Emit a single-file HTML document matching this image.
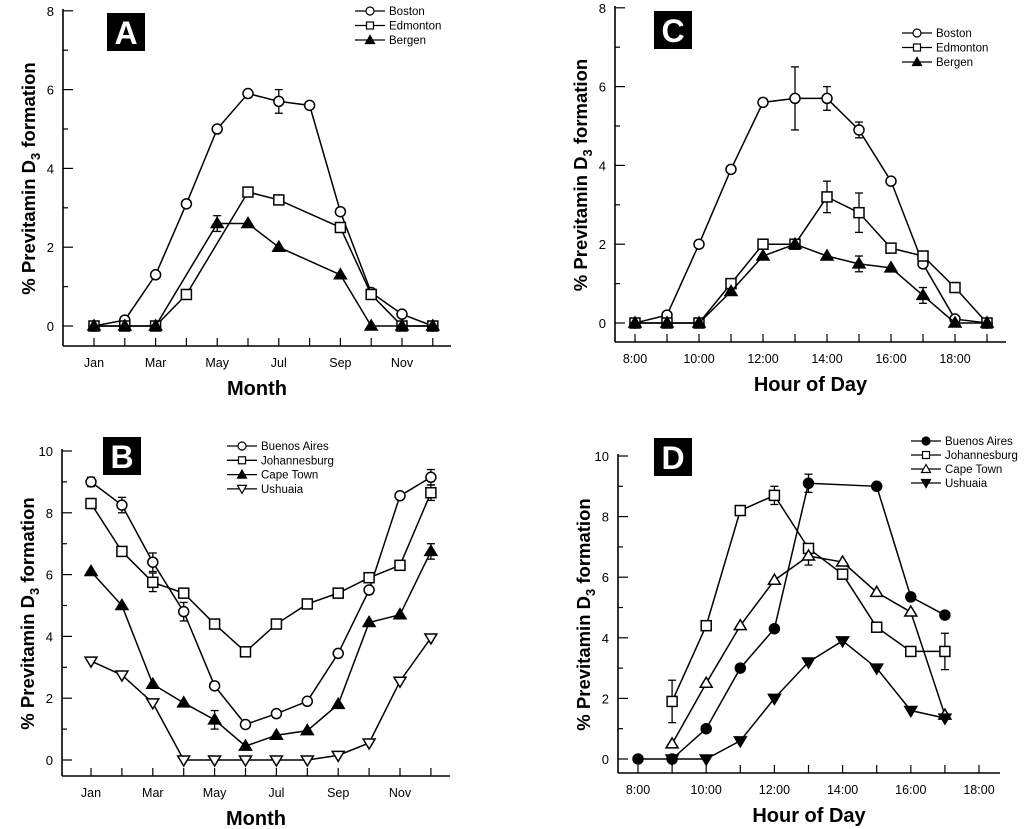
<!DOCTYPE html>
<html><head><meta charset="utf-8">
<style>
body{margin:0;background:#fff;}
svg{display:block;font-family:"Liberation Sans",Arial,sans-serif;}
</style></head>
<body>
<svg id="fig" width="1024" height="829" viewBox="0 0 1024 829"></svg>
<script>
// ---------- data ----------
const monthLabels = ["Jan","Mar","May","Jul","Sep","Nov"];
const hourLabels = ["8:00","10:00","12:00","14:00","16:00","18:00"];
// Panel A (months 1-12)
const aBoston   = [0,0.15,1.3,3.1,5.0,5.9,5.7,5.6,2.9,0.85,0.3,0];
const aEdmonton = [0,0,0,0.8,null,3.4,3.2,null,2.5,0.8,0,0];
const aBergen   = [0,0,0,null,2.6,2.6,2.0,null,1.3,0,0,0];
const aErr = [["boston",6,0.3],["bergen",4,0.2]];
// Panel C (hours 8-19)
const cBoston   = [0,0.2,2.0,3.9,5.6,5.7,5.7,4.9,3.6,1.5,0.1,0];
const cEdmonton = [0,0,0,1.0,2.0,2.0,3.2,2.8,1.9,1.7,0.9,0];
const cBergen   = [0,0,0,0.8,1.7,2.0,1.7,1.5,1.4,0.7,0,0];
const cErr = [["boston",5,0.8],["boston",6,0.3],["boston",7,0.2],["edmonton",6,0.4],["edmonton",7,0.5],["bergen",7,0.2],["bergen",9,0.2]];
// Panel B (months 1-12)
const bBuenos = [9.0,8.25,6.4,4.8,2.4,1.15,1.5,1.9,3.45,5.5,8.55,9.15];
const bJohan  = [8.3,6.75,5.75,5.4,4.4,3.5,4.4,5.05,5.4,5.9,6.3,8.65];
const bCape   = [6.1,5.0,2.45,1.85,1.3,0.45,0.8,0.95,1.8,4.45,4.7,6.75];
const bUsh    = [3.2,2.75,1.85,0,0,0,0,0,0.15,0.55,2.55,3.95];
const bErr = [["buenos",0,0.15],["buenos",1,0.25],["buenos",2,0.3],["buenos",3,0.3],["buenos",11,0.25],["johan",2,0.3],["johan",11,0.25],["cape",4,0.3],["cape",11,0.25]];
// Panel D (hours 8-17)
const dBuenos = [0,0,1.0,3.0,4.3,9.1,null,9.0,5.35,4.75];
const dJohan  = [null,1.9,4.4,8.2,8.7,6.95,6.1,4.35,3.55,3.55];
const dCape   = [null,0.5,2.5,4.4,5.9,6.7,6.5,5.5,4.85,1.45];
const dUsh    = [null,0,0,0.6,2.0,3.2,3.9,3.0,1.6,1.35];
const dErr = [["buenos",5,0.3],["johan",1,0.7],["johan",4,0.3],["johan",9,0.6],["cape",5,0.3]];

const NS="http://www.w3.org/2000/svg";
const svg=document.getElementById('fig');
function el(tag,attrs,parent){const e=document.createElementNS(NS,tag);for(const k in attrs)e.setAttribute(k,attrs[k]);(parent||svg).appendChild(e);return e;}

function marker(g,type,x,y){
  const r=5;let m;
  if(type==='circle'||type==='fcircle') m=el('circle',{cx:x,cy:y,r:r,fill:type==='fcircle'?'#000':'#fff',stroke:'#000','stroke-width':1.5},g);
  else if(type==='square') m=el('rect',{x:x-r,y:y-r,width:2*r,height:2*r,fill:'#fff',stroke:'#000','stroke-width':1.5},g);
  else if(type==='tri'||type==='otri') m=el('polygon',{points:`${x},${y-r-1} ${x-r-1},${y+r-1} ${x+r+1},${y+r-1}`,fill:type==='tri'?'#000':'#fff',stroke:'#000','stroke-width':1.5},g);
  else m=el('polygon',{points:`${x},${y+r+1} ${x-r-1},${y-r+1} ${x+r+1},${y-r+1}`,fill:type==='dtri'?'#000':'#fff',stroke:'#000','stroke-width':1.5},g);
  
  
}

function panel(cfg){
  const g=el('g',{});
  
  
  const X=i=>cfg.x0+i*cfg.dx, Y=v=>cfg.y0-v*cfg.dy;
  el('line',{x1:cfg.ax,y1:cfg.yTop-2,x2:cfg.ax,y2:cfg.axY,stroke:'#000','stroke-width':1.6},g);
  el('line',{x1:cfg.ax,y1:cfg.axY,x2:cfg.axR,y2:cfg.axY,stroke:'#000','stroke-width':1.6},g);
  for(let v=0;v<=cfg.ymax;v++){
    const major=v%2===0;
    el('line',{x1:cfg.ax,y1:Y(v),x2:cfg.ax+(major?10:5),y2:Y(v),stroke:'#000','stroke-width':1.2},g);
    if(major){const t=el('text',{x:cfg.ax-9,y:Y(v)+5,'text-anchor':'end','font-size':13},g);t.textContent=v;
      }
  }
  for(let i=0;i<cfg.nx;i++){
    el('line',{x1:X(i),y1:cfg.axY,x2:X(i),y2:cfg.axY-8,stroke:'#000','stroke-width':1.2},g);
  }
  cfg.xlabels.forEach((s,k)=>{const t=el('text',{x:X(k*2),y:cfg.axY+21,'text-anchor':'middle','font-size':12.5},g);t.textContent=s;
    });
  const xt=el('text',{x:(cfg.ax+cfg.axR)/2,y:cfg.axY+49,'text-anchor':'middle','font-size':20,'font-weight':'bold'},g);
  xt.textContent=cfg.xtitle;
  const cy=(cfg.yTop+cfg.axY)/2, tx=cfg.ax-28;
  const yt=el('text',{x:tx,y:cy,transform:`rotate(-90 ${tx} ${cy})`,'text-anchor':'middle','font-size':18.5,'font-weight':'bold'},g);
  
  yt.innerHTML='% Previtamin D<tspan font-size="13" dy="5">3</tspan><tspan dy="-5"> formation</tspan>';
  el('rect',{x:cfg.bx,y:cfg.by,width:38,height:38,fill:'#000'},g);
  const lt=el('text',{x:cfg.bx+19,y:cfg.by+31,'text-anchor':'middle','font-size':32,'font-weight':'bold',fill:'#fff'},g);
  lt.textContent=cfg.letter;
  cfg.err.forEach(([key,i,e])=>{
    const s=cfg.series.find(s=>s.key===key);const v=s.data[i];const x=X(i);
    el('line',{x1:x,y1:Y(v+e),x2:x,y2:Y(v-e),stroke:'#000','stroke-width':1.3},g);
    el('line',{x1:x-4,y1:Y(v+e),x2:x+4,y2:Y(v+e),stroke:'#000','stroke-width':1.3},g);
    el('line',{x1:x-4,y1:Y(v-e),x2:x+4,y2:Y(v-e),stroke:'#000','stroke-width':1.3},g);
  });
  cfg.series.forEach(s=>{
    const sg=el('g',{},g);
    
    
    const pts=[];s.data.forEach((v,i)=>{if(v!==null)pts.push([X(i),Y(v)]);});
    el('polyline',{points:pts.map(p=>p.join(',')).join(' '),fill:'none',stroke:'#000','stroke-width':1.5},sg);
    pts.forEach(p=>marker(sg,s.m,p[0],p[1]));
  });
  cfg.series.forEach((s,k)=>{
    const ly=cfg.ly+k*cfg.lsp;
    const lg=el('g',{},g);
    
    
    el('line',{x1:cfg.lx,y1:ly,x2:cfg.lx+30,y2:ly,stroke:'#000','stroke-width':1.3},lg);
    const r=3.5,x=cfg.lx+15;
    if(s.m==='circle'||s.m==='fcircle')el('circle',{cx:x,cy:ly,r:r+0.5,fill:s.m==='fcircle'?'#000':'#fff',stroke:'#000','stroke-width':1.2},lg);
    else if(s.m==='square')el('rect',{x:x-r,y:ly-r,width:2*r,height:2*r,fill:'#fff',stroke:'#000','stroke-width':1.2},lg);
    else if(s.m==='tri'||s.m==='otri')el('polygon',{points:`${x},${ly-r-1} ${x-r-1},${ly+r} ${x+r+1},${ly+r}`,fill:s.m==='tri'?'#000':'#fff',stroke:'#000','stroke-width':1.2},lg);
    else el('polygon',{points:`${x},${ly+r+1} ${x-r-1},${ly-r} ${x+r+1},${ly-r}`,fill:s.m==='dtri'?'#000':'#fff',stroke:'#000','stroke-width':1.2},lg);
    const t=el('text',{x:cfg.lx+34,y:ly+4,'font-size':11.5},lg);t.textContent=s.name;
  });
}

panel({letter:'A',ax:63,axR:451,axY:346,yTop:11,x0:94,dx:30.8,nx:12,y0:326,dy:39.4,ymax:8,
  xlabels:monthLabels,xtitle:'Month',bx:107,by:13,lx:355,ly:11,lsp:14.5,err:aErr,
  series:[{key:'boston',name:'Boston',data:aBoston,m:'circle'},{key:'edmonton',name:'Edmonton',data:aEdmonton,m:'square'},{key:'bergen',name:'Bergen',data:aBergen,m:'tri'}]});
panel({letter:'C',ax:615,axR:1006,axY:342,yTop:8,x0:635,dx:32,nx:12,y0:323,dy:39.4,ymax:8,
  xlabels:hourLabels,xtitle:'Hour of Day',bx:654,by:11,lx:902,ly:33,lsp:14.5,err:cErr,
  series:[{key:'boston',name:'Boston',data:cBoston,m:'circle'},{key:'edmonton',name:'Edmonton',data:cEdmonton,m:'square'},{key:'bergen',name:'Bergen',data:cBergen,m:'tri'}]});
panel({letter:'B',ax:62,axR:450,axY:776,yTop:451,x0:91,dx:30.9,nx:12,y0:760,dy:30.9,ymax:10,
  xlabels:monthLabels,xtitle:'Month',bx:103,by:437,lx:227,ly:446,lsp:14.3,err:bErr,
  series:[{key:'buenos',name:'Buenos Aires',data:bBuenos,m:'circle'},{key:'johan',name:'Johannesburg',data:bJohan,m:'square'},{key:'cape',name:'Cape Town',data:bCape,m:'tri'},{key:'ush',name:'Ushuaia',data:bUsh,m:'odtri'}]});
panel({letter:'D',ax:618,axR:1000,axY:773,yTop:456,x0:638,dx:34.1,nx:11,y0:759,dy:30.3,ymax:10,
  xlabels:hourLabels,xtitle:'Hour of Day',bx:654,by:438,lx:911,ly:441,lsp:14,err:dErr,
  series:[{key:'buenos',name:'Buenos Aires',data:dBuenos,m:'fcircle'},{key:'johan',name:'Johannesburg',data:dJohan,m:'square'},{key:'cape',name:'Cape Town',data:dCape,m:'otri'},{key:'ush',name:'Ushuaia',data:dUsh,m:'dtri'}]});
</script>
</body></html>
